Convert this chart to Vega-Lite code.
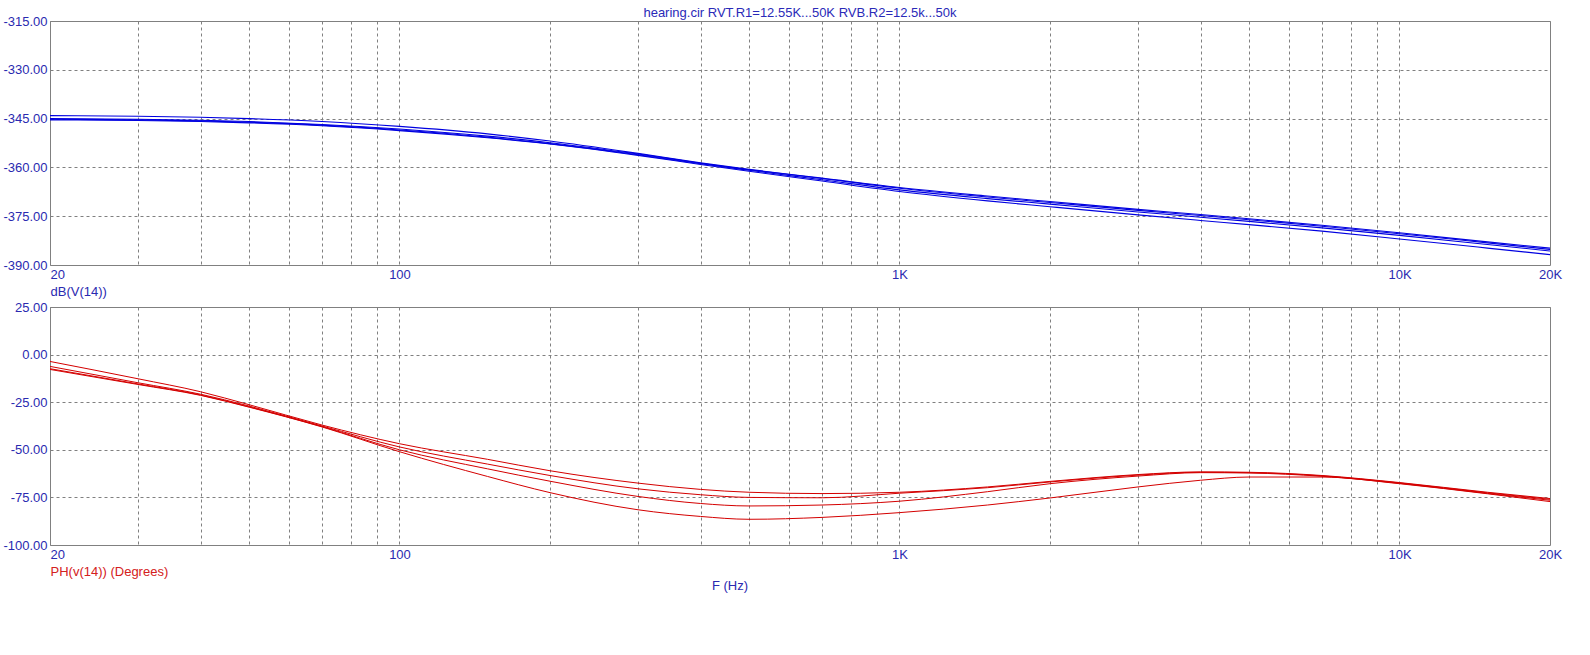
{
  "$schema": "https://vega.github.io/schema/vega-lite/v6.json",
  "padding": {"left": 2, "top": 6, "right": 5, "bottom": 5},
  "background": "white",
  "config": {
    "font": "Liberation Sans",
    "view": {"stroke": "#808080", "strokeWidth": 1},
    "axis": {
      "ticks": false,
      "domain": false,
      "grid": true,
      "gridColor": "#808080",
      "gridDash": [3, 3],
      "gridWidth": 1,
      "labelFont": "Liberation Sans",
      "labelFontSize": 13,
      "labelColor": "#2a2ab0",
      "labelPadding": 3,
      "labelOverlap": false,
      "titleFont": "Liberation Sans",
      "titleFontSize": 13,
      "titleFontWeight": "normal"
    }
  },
  "title": {
    "text": "F (Hz)",
    "orient": "bottom",
    "anchor": "middle",
    "frame": "group",
    "dx": -70,
    "offset": 1,
    "fontSize": 13,
    "fontWeight": "normal",
    "font": "Liberation Sans",
    "color": "#2a2ab0"
  },
  "datasets": {
    "mag": [
      {"run": "a", "f": 20, "db": -344.1}, {"run": "a", "f": 30, "db": -344.3}, {"run": "a", "f": 40, "db": -344.6}, {"run": "a", "f": 50, "db": -345.0}, {"run": "a", "f": 70, "db": -345.9}, {"run": "a", "f": 100, "db": -347.4}, {"run": "a", "f": 150, "db": -349.7}, {"run": "a", "f": 200, "db": -351.9}, {"run": "a", "f": 300, "db": -355.7}, {"run": "a", "f": 400, "db": -358.6}, {"run": "a", "f": 500, "db": -360.6}, {"run": "a", "f": 700, "db": -363.3}, {"run": "a", "f": 1000, "db": -366.2}, {"run": "a", "f": 1500, "db": -368.8}, {"run": "a", "f": 2000, "db": -370.5}, {"run": "a", "f": 3000, "db": -372.9}, {"run": "a", "f": 4000, "db": -374.5}, {"run": "a", "f": 5000, "db": -375.8}, {"run": "a", "f": 7000, "db": -377.8}, {"run": "a", "f": 10000, "db": -380.1}, {"run": "a", "f": 15000, "db": -382.9}, {"run": "a", "f": 20000, "db": -384.8},
      {"run": "b", "f": 20, "db": -345.0}, {"run": "b", "f": 30, "db": -345.2}, {"run": "b", "f": 40, "db": -345.5}, {"run": "b", "f": 50, "db": -345.9}, {"run": "b", "f": 70, "db": -346.8}, {"run": "b", "f": 100, "db": -348.2}, {"run": "b", "f": 150, "db": -350.4}, {"run": "b", "f": 200, "db": -352.4}, {"run": "b", "f": 300, "db": -355.9}, {"run": "b", "f": 400, "db": -358.7}, {"run": "b", "f": 500, "db": -360.7}, {"run": "b", "f": 700, "db": -363.4}, {"run": "b", "f": 1000, "db": -366.4}, {"run": "b", "f": 1500, "db": -369.1}, {"run": "b", "f": 2000, "db": -370.8}, {"run": "b", "f": 3000, "db": -373.2}, {"run": "b", "f": 4000, "db": -374.8}, {"run": "b", "f": 5000, "db": -376.1}, {"run": "b", "f": 7000, "db": -378.1}, {"run": "b", "f": 10000, "db": -380.4}, {"run": "b", "f": 15000, "db": -383.2}, {"run": "b", "f": 20000, "db": -385.2},
      {"run": "c", "f": 20, "db": -345.2}, {"run": "c", "f": 30, "db": -345.4}, {"run": "c", "f": 40, "db": -345.7}, {"run": "c", "f": 50, "db": -346.1}, {"run": "c", "f": 70, "db": -347.0}, {"run": "c", "f": 100, "db": -348.5}, {"run": "c", "f": 150, "db": -350.7}, {"run": "c", "f": 200, "db": -352.7}, {"run": "c", "f": 300, "db": -356.1}, {"run": "c", "f": 400, "db": -358.9}, {"run": "c", "f": 500, "db": -360.9}, {"run": "c", "f": 700, "db": -363.8}, {"run": "c", "f": 1000, "db": -366.9}, {"run": "c", "f": 1500, "db": -369.6}, {"run": "c", "f": 2000, "db": -371.3}, {"run": "c", "f": 3000, "db": -373.7}, {"run": "c", "f": 4000, "db": -375.3}, {"run": "c", "f": 5000, "db": -376.6}, {"run": "c", "f": 7000, "db": -378.6}, {"run": "c", "f": 10000, "db": -380.9}, {"run": "c", "f": 15000, "db": -383.7}, {"run": "c", "f": 20000, "db": -385.7},
      {"run": "d", "f": 20, "db": -345.4}, {"run": "d", "f": 30, "db": -345.6}, {"run": "d", "f": 40, "db": -345.9}, {"run": "d", "f": 50, "db": -346.3}, {"run": "d", "f": 70, "db": -347.2}, {"run": "d", "f": 100, "db": -348.7}, {"run": "d", "f": 150, "db": -350.9}, {"run": "d", "f": 200, "db": -352.8}, {"run": "d", "f": 300, "db": -356.3}, {"run": "d", "f": 400, "db": -359.1}, {"run": "d", "f": 500, "db": -361.2}, {"run": "d", "f": 700, "db": -364.2}, {"run": "d", "f": 1000, "db": -367.4}, {"run": "d", "f": 1500, "db": -370.3}, {"run": "d", "f": 2000, "db": -372.1}, {"run": "d", "f": 3000, "db": -374.6}, {"run": "d", "f": 4000, "db": -376.3}, {"run": "d", "f": 5000, "db": -377.6}, {"run": "d", "f": 7000, "db": -379.6}, {"run": "d", "f": 10000, "db": -382.0}, {"run": "d", "f": 15000, "db": -384.8}, {"run": "d", "f": 20000, "db": -386.8}
    ],
    "phase": [
      {"run": "a", "f": 20, "deg": -3.6}, {"run": "a", "f": 30, "deg": -12.7}, {"run": "a", "f": 40, "deg": -19.5}, {"run": "a", "f": 50, "deg": -26.3}, {"run": "a", "f": 70, "deg": -37.0}, {"run": "a", "f": 100, "deg": -46.8}, {"run": "a", "f": 150, "deg": -55.0}, {"run": "a", "f": 200, "deg": -61.0}, {"run": "a", "f": 300, "deg": -67.5}, {"run": "a", "f": 400, "deg": -70.8}, {"run": "a", "f": 500, "deg": -72.3}, {"run": "a", "f": 700, "deg": -73.0}, {"run": "a", "f": 1000, "deg": -72.3}, {"run": "a", "f": 1500, "deg": -69.5}, {"run": "a", "f": 2000, "deg": -66.6}, {"run": "a", "f": 3000, "deg": -63.0}, {"run": "a", "f": 4000, "deg": -61.6}, {"run": "a", "f": 5000, "deg": -61.8}, {"run": "a", "f": 7000, "deg": -63.5}, {"run": "a", "f": 10000, "deg": -67.2}, {"run": "a", "f": 15000, "deg": -72.3}, {"run": "a", "f": 20000, "deg": -75.6},
      {"run": "b", "f": 20, "deg": -6.2}, {"run": "b", "f": 30, "deg": -14.8}, {"run": "b", "f": 40, "deg": -20.8}, {"run": "b", "f": 50, "deg": -27.0}, {"run": "b", "f": 70, "deg": -37.5}, {"run": "b", "f": 100, "deg": -48.5}, {"run": "b", "f": 150, "deg": -57.5}, {"run": "b", "f": 200, "deg": -63.5}, {"run": "b", "f": 300, "deg": -70.5}, {"run": "b", "f": 400, "deg": -73.6}, {"run": "b", "f": 500, "deg": -75.0}, {"run": "b", "f": 700, "deg": -75.2}, {"run": "b", "f": 1000, "deg": -72.8}, {"run": "b", "f": 1500, "deg": -69.9}, {"run": "b", "f": 2000, "deg": -66.9}, {"run": "b", "f": 3000, "deg": -63.3}, {"run": "b", "f": 4000, "deg": -61.8}, {"run": "b", "f": 5000, "deg": -62.0}, {"run": "b", "f": 7000, "deg": -63.7}, {"run": "b", "f": 10000, "deg": -67.4}, {"run": "b", "f": 15000, "deg": -72.6}, {"run": "b", "f": 20000, "deg": -76.0},
      {"run": "c", "f": 20, "deg": -7.4}, {"run": "c", "f": 30, "deg": -15.4}, {"run": "c", "f": 40, "deg": -21.2}, {"run": "c", "f": 50, "deg": -27.4}, {"run": "c", "f": 70, "deg": -37.8}, {"run": "c", "f": 100, "deg": -50.0}, {"run": "c", "f": 150, "deg": -60.0}, {"run": "c", "f": 200, "deg": -66.5}, {"run": "c", "f": 300, "deg": -74.5}, {"run": "c", "f": 400, "deg": -78.2}, {"run": "c", "f": 500, "deg": -79.5}, {"run": "c", "f": 700, "deg": -79.0}, {"run": "c", "f": 1000, "deg": -77.0}, {"run": "c", "f": 1500, "deg": -72.0}, {"run": "c", "f": 2000, "deg": -67.8}, {"run": "c", "f": 3000, "deg": -63.8}, {"run": "c", "f": 4000, "deg": -62.0}, {"run": "c", "f": 5000, "deg": -62.2}, {"run": "c", "f": 7000, "deg": -63.9}, {"run": "c", "f": 10000, "deg": -67.6}, {"run": "c", "f": 15000, "deg": -72.9}, {"run": "c", "f": 20000, "deg": -76.5},
      {"run": "d", "f": 20, "deg": -7.8}, {"run": "d", "f": 30, "deg": -15.7}, {"run": "d", "f": 40, "deg": -21.4}, {"run": "d", "f": 50, "deg": -27.6}, {"run": "d", "f": 70, "deg": -38.0}, {"run": "d", "f": 100, "deg": -51.0}, {"run": "d", "f": 150, "deg": -64.0}, {"run": "d", "f": 200, "deg": -72.5}, {"run": "d", "f": 300, "deg": -81.5}, {"run": "d", "f": 400, "deg": -85.0}, {"run": "d", "f": 500, "deg": -86.5}, {"run": "d", "f": 700, "deg": -85.5}, {"run": "d", "f": 1000, "deg": -83.0}, {"run": "d", "f": 1500, "deg": -79.0}, {"run": "d", "f": 2000, "deg": -75.3}, {"run": "d", "f": 3000, "deg": -69.5}, {"run": "d", "f": 4000, "deg": -66.0}, {"run": "d", "f": 5000, "deg": -64.3}, {"run": "d", "f": 7000, "deg": -64.3}, {"run": "d", "f": 10000, "deg": -67.8}, {"run": "d", "f": 15000, "deg": -73.1}, {"run": "d", "f": 20000, "deg": -77.2}
    ]
  },
  "bounds": "flush",
  "spacing": 42,
  "vconcat": [
    {
      "width": 1500,
      "height": 244,
      "title": {
        "text": "hearing.cir RVT.R1=12.55K...50K RVB.R2=12.5k...50k",
        "anchor": "middle",
        "frame": "group",
        "offset": -5,
        "fontSize": 13,
        "fontWeight": "normal",
        "font": "Liberation Sans",
        "color": "#2a2ab8"
      },
      "data": {"name": "mag"},
      "mark": {"type": "line", "color": "#0000e0", "strokeWidth": 1.1, "interpolate": "monotone", "clip": true},
      "encoding": {
        "x": {
          "field": "f",
          "type": "quantitative",
          "scale": {"type": "log", "domain": [20, 20000], "nice": false},
          "axis": {
            "values": [20, 30, 40, 50, 60, 70, 80, 90, 100, 200, 300, 400, 500, 600, 700, 800, 900, 1000, 2000, 3000, 4000, 5000, 6000, 7000, 8000, 9000, 10000, 20000],
            "labelExpr": "datum.value == 20 ? '20' : datum.value == 100 ? '100' : datum.value == 1000 ? '1K' : datum.value == 10000 ? '10K' : datum.value == 20000 ? '20K' : ''",
            "labelAlign": {"condition": {"test": "datum.value == 20", "value": "left"}, "value": "center"},
            "title": "dB(V(14))",
            "titleAnchor": "start",
            "titleColor": "#2a2ab0",
            "titlePadding": 4
          }
        },
        "y": {
          "field": "db",
          "type": "quantitative",
          "scale": {"domain": [-390, -315], "nice": false, "zero": false},
          "axis": {
            "values": [-390, -375, -360, -345, -330, -315],
            "labelExpr": "(datum.value < 0 ? '-' : '') + format(abs(datum.value), '.2f')",
            "title": null
          }
        },
        "detail": {"field": "run", "type": "nominal"}
      }
    },
    {
      "width": 1500,
      "height": 238,
      "data": {"name": "phase"},
      "mark": {"type": "line", "color": "#d40000", "strokeWidth": 1, "interpolate": "monotone", "clip": true},
      "encoding": {
        "x": {
          "field": "f",
          "type": "quantitative",
          "scale": {"type": "log", "domain": [20, 20000], "nice": false},
          "axis": {
            "values": [20, 30, 40, 50, 60, 70, 80, 90, 100, 200, 300, 400, 500, 600, 700, 800, 900, 1000, 2000, 3000, 4000, 5000, 6000, 7000, 8000, 9000, 10000, 20000],
            "labelExpr": "datum.value == 20 ? '20' : datum.value == 100 ? '100' : datum.value == 1000 ? '1K' : datum.value == 10000 ? '10K' : datum.value == 20000 ? '20K' : ''",
            "labelAlign": {"condition": {"test": "datum.value == 20", "value": "left"}, "value": "center"},
            "title": "PH(v(14)) (Degrees)",
            "titleAnchor": "start",
            "titleColor": "#d42020",
            "titlePadding": 4
          }
        },
        "y": {
          "field": "deg",
          "type": "quantitative",
          "scale": {"domain": [-100, 25], "nice": false, "zero": false},
          "axis": {
            "values": [-100, -75, -50, -25, 0, 25],
            "labelExpr": "(datum.value < 0 ? '-' : '') + format(abs(datum.value), '.2f')",
            "title": null
          }
        },
        "detail": {"field": "run", "type": "nominal"}
      }
    }
  ]
}
